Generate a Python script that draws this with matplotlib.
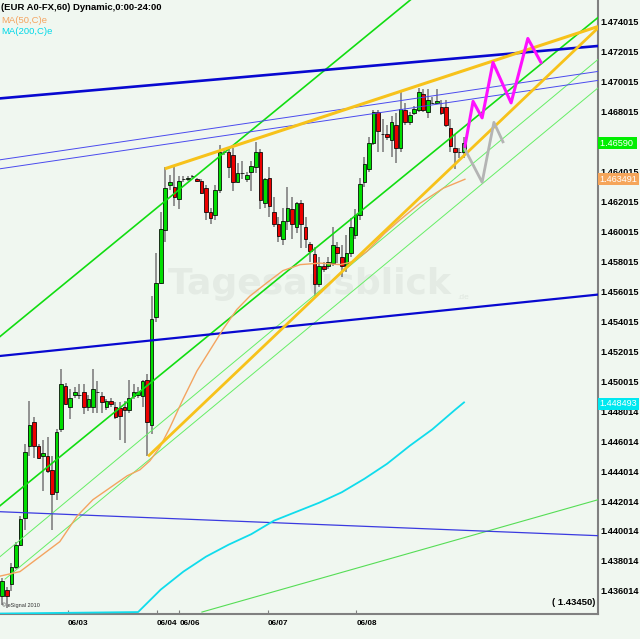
import numpy as np
import matplotlib.pyplot as plt
from matplotlib import transforms

plt.rcParams['font.family'] = ['Liberation Sans', 'DejaVu Sans']

# hourly candles, EUR A0-FX, bar index 0..102
opens = [1.4357, 1.4361, 1.4365, 1.4376, 1.4391, 1.4409, 1.4457, 1.4473, 1.4457, 1.4450,
         1.4450, 1.4441, 1.4426, 1.4468, 1.4497, 1.4483, 1.4491, 1.4491, 1.4493, 1.4483,
         1.4483, 1.4493, 1.4490, 1.4483, 1.4487, 1.4483, 1.4482, 1.4483, 1.4481, 1.4490,
         1.4491, 1.4490, 1.4501, 1.4471, 1.4543, 1.4566, 1.4601, 1.4631, 1.4630, 1.4622,
         1.4635, 1.4635, 1.4637, 1.4635, 1.4634, 1.4629, 1.4613, 1.4611, 1.4628, 1.4653,
         1.4653, 1.4651, 1.4633, 1.4639, 1.4635, 1.4640, 1.4643, 1.4653, 1.4619, 1.4636,
         1.4613, 1.4605, 1.4595, 1.4607, 1.4615, 1.4603, 1.4619, 1.4603, 1.4592, 1.4585,
         1.4565, 1.4577, 1.4577, 1.4579, 1.4590, 1.4583, 1.4577, 1.4586, 1.4598, 1.4611,
         1.4633, 1.4642, 1.4659, 1.4680, 1.4665, 1.4665, 1.4661, 1.4671, 1.4656, 1.4681,
         1.4673, 1.4679, 1.4681, 1.4692, 1.4680, 1.4686, 1.4686, 1.4683, 1.4683, 1.4669,
         1.4656, 1.4653, 1.4653]
highs = [1.4369, 1.4363, 1.4379, 1.4393, 1.4410, 1.4458, 1.4487, 1.4476, 1.4458, 1.4461,
         1.4463, 1.4450, 1.4468, 1.4508, 1.4499, 1.4495, 1.4496, 1.4498, 1.4498, 1.4491,
         1.4508, 1.4500, 1.4493, 1.4488, 1.4489, 1.4486, 1.4486, 1.4487, 1.4501, 1.4498,
         1.4496, 1.4501, 1.4505, 1.4557, 1.4586, 1.4613, 1.4643, 1.4638, 1.4643, 1.4637,
         1.4637, 1.4637, 1.4638, 1.4636, 1.4635, 1.4631, 1.4616, 1.4631, 1.4658, 1.4655,
         1.4656, 1.4656, 1.4646, 1.4647, 1.4640, 1.4647, 1.4660, 1.4655, 1.4636, 1.4643,
         1.4623, 1.4610, 1.4616, 1.4630, 1.4623, 1.4620, 1.4621, 1.4610, 1.4593, 1.4590,
         1.4583, 1.4580, 1.4583, 1.4603, 1.4593, 1.4591, 1.4598, 1.4609, 1.4615, 1.4636,
         1.4650, 1.4663, 1.4681, 1.4681, 1.4675, 1.4671, 1.4677, 1.4679, 1.4693, 1.4686,
         1.4680, 1.4684, 1.4696, 1.4695, 1.4695, 1.4690, 1.4695, 1.4688, 1.4688, 1.4675,
         1.4665, 1.4656, 1.4663]
lows = [1.4351, 1.4349, 1.4360, 1.4375, 1.4390, 1.4401, 1.4450, 1.4449, 1.4448, 1.4427,
        1.4439, 1.4401, 1.4421, 1.4466, 1.4484, 1.4475, 1.4489, 1.4488, 1.4478, 1.4480,
        1.4479, 1.4479, 1.4479, 1.4481, 1.4483, 1.4475, 1.4461, 1.4459, 1.4479, 1.4488,
        1.4489, 1.4483, 1.4450, 1.4465, 1.4540, 1.4565, 1.4593, 1.4628, 1.4617, 1.4615,
        1.4633, 1.4634, 1.4636, 1.4633, 1.4625, 1.4608, 1.4605, 1.4608, 1.4626, 1.4651,
        1.4636, 1.4627, 1.4633, 1.4635, 1.4633, 1.4627, 1.4639, 1.4615, 1.4616, 1.4610,
        1.4603, 1.4593, 1.4591, 1.4601, 1.4595, 1.4599, 1.4589, 1.4589, 1.4580, 1.4557,
        1.4563, 1.4573, 1.4575, 1.4577, 1.4579, 1.4570, 1.4573, 1.4583, 1.4595, 1.4608,
        1.4630, 1.4640, 1.4658, 1.4653, 1.4653, 1.4661, 1.4650, 1.4646, 1.4653, 1.4671,
        1.4671, 1.4678, 1.4680, 1.4680, 1.4676, 1.4685, 1.4685, 1.4678, 1.4670, 1.4653,
        1.4642, 1.4649, 1.4649]
closes = [1.4367, 1.4357, 1.4376, 1.4391, 1.4408, 1.4453, 1.4471, 1.4457, 1.4449, 1.4452,
          1.4440, 1.4425, 1.4466, 1.4498, 1.4485, 1.4489, 1.4493, 1.4491, 1.4483, 1.4488,
          1.4495, 1.4493, 1.4486, 1.4487, 1.4485, 1.4476, 1.4477, 1.4481, 1.4489, 1.4493,
          1.4493, 1.4500, 1.4473, 1.4542, 1.4566, 1.4602, 1.4629, 1.4633, 1.4623, 1.4634,
          1.4635, 1.4636, 1.4637, 1.4634, 1.4626, 1.4613, 1.4609, 1.4628, 1.4653, 1.4653,
          1.4643, 1.4633, 1.4639, 1.4639, 1.4638, 1.4644, 1.4653, 1.4621, 1.4635, 1.4617,
          1.4605, 1.4597, 1.4607, 1.4616, 1.4605, 1.4619, 1.4605, 1.4595, 1.4587, 1.4565,
          1.4577, 1.4575, 1.4580, 1.4591, 1.4586, 1.4577, 1.4586, 1.4603, 1.4611, 1.4632,
          1.4645, 1.4659, 1.4680, 1.4667, 1.4665, 1.4663, 1.4673, 1.4656, 1.4682, 1.4673,
          1.4678, 1.4682, 1.4693, 1.4681, 1.4688, 1.4686, 1.4687, 1.4679, 1.4671, 1.4657,
          1.4653, 1.4653, 1.4659]

# moving averages
ma50_x = [-0.5, 3.9, 8.3, 12.7, 16.5, 20.0, 23.8, 27.6, 30.4, 32.6, 34.8, 37.0, 39.9, 43.0,
          45.9, 48.8, 51.8, 54.7, 58.5, 62.0, 65.8, 70.2, 74.6, 77.5, 80.6, 84.5, 87.9, 92.3,
          97.4, 102.2]
ma50_y = [1.4370, 1.4373, 1.4383, 1.4393, 1.4410, 1.4421, 1.4429, 1.4437, 1.4441, 1.4447,
          1.4456, 1.4469, 1.4488, 1.4507, 1.4521, 1.4535, 1.4548, 1.4557, 1.4566, 1.4574,
          1.4578, 1.4579, 1.4578, 1.4580, 1.4587, 1.4599, 1.4608, 1.4619, 1.4629, 1.4635]
ma200_x = [-0.5, 30, 35, 40, 45, 50, 55, 60, 65, 70, 75, 80, 85, 90, 95, 100, 102]
ma200_y = [1.4345, 1.4346, 1.4361, 1.4373, 1.4383, 1.4391, 1.4398, 1.4407, 1.4413, 1.4419,
           1.4426, 1.4435, 1.4445, 1.4457, 1.4468, 1.4481, 1.4486]

# hand drawn trend lines (bar, price) end points
blue_thick_hi = ([-0.5, 131.6], [1.4689, 1.4724])
blue_thick_lo = ([-0.5, 131.6], [1.4517, 1.4558])
blue_thin_lo = ([-0.5, 131.6], [1.4413, 1.4397])
blue_thin_a = ([-0.5, 131.6], [1.4648, 1.4707])
blue_thin_b = ([-0.5, 131.6], [1.4642, 1.4701])
yellow_hi = ([35.9, 131.6], [1.4642, 1.4737])
yellow_lo = ([32.2, 131.6], [1.4450, 1.4736])
green_a = ([-0.5, 131.6], [1.4417, 1.4743])
green_b = ([-0.5, 108.4], [1.4530, 1.4800])
lime_a = ([-0.5, 131.6], [1.4383, 1.4715])
lime_b = ([0.6, 131.6], [1.4368, 1.4696])
lime_c = ([44.1, 131.6], [1.4346, 1.4421])

# projected paths
magenta_x = [102.2, 104.0, 106.0, 108.4, 112.4, 116.1, 119.0]
magenta_y = [1.4657, 1.4687, 1.4676, 1.4713, 1.4686, 1.4729, 1.4713]
gray_x = [102.2, 106.0, 108.6, 110.6]
gray_y = [1.4655, 1.4633, 1.4673, 1.4660]

day_ticks = [14.5, 34.2, 39.1, 58.7, 78.2]
day_labels = ["06/03", "06/04", "06/06", "06/07", "06/08"]

price_ticks = [1.474015, 1.472015, 1.470015, 1.468015, 1.464015, 1.462015,
               1.460015, 1.458015, 1.456015, 1.454015, 1.452015, 1.450015, 1.448014,
               1.446014, 1.444014, 1.442014, 1.440014, 1.438014, 1.436014]
price_labels = ["1.474015", "1.472015", "1.470015", "1.468015", "1.464015",
                "1.462015", "1.460015", "1.458015", "1.456015", "1.454015", "1.452015",
                "1.450015", "1.448014", "1.446014", "1.444014", "1.442014", "1.440014",
                "1.438014", "1.436014"]

bg = "#f0f7f0"
fig = plt.figure(figsize=(6.4, 6.39), dpi=100, facecolor=bg)
ax = fig.add_axes([0, 25 / 639, 598 / 640, 614 / 639])
ax.set_facecolor(bg)

# watermark
ax.text(68, 1.4565, "Tagesausblick", fontsize=26, fontweight="bold", color="#e4ebe4",
        ha="center", va="center", zorder=0.5, family="DejaVu Sans")
ax.text(100.5, 1.4555, ".de", fontsize=6, color="#dfe7df", zorder=0.5)

# candles
o = np.array(opens)
c = np.array(closes)
x = np.arange(len(o))
ax.vlines(x, lows, highs, color="#777777", lw=1.1, zorder=2)
body_lo = np.minimum(o, c)
body_h = np.maximum(np.abs(c - o), 1e-6)
cols = np.where(c >= o, "#00dd00", "#ee0000")
ax.bar(x, body_h, bottom=body_lo, width=0.8, color=cols, edgecolor="black",
       linewidth=0.55, zorder=3)

# trend lines
ax.plot(*lime_a, color="#66ee66", lw=0.7, zorder=4)
ax.plot(*lime_b, color="#66ee66", lw=0.7, zorder=4)
ax.plot(*lime_c, color="#55dd55", lw=0.8, zorder=4)
ax.plot(*green_a, color="#11dd11", lw=1.2, zorder=4)
ax.plot(*green_b, color="#11dd11", lw=1.2, zorder=4)
ax.plot(*blue_thin_a, color="#4a4aee", lw=0.7, zorder=4)
ax.plot(*blue_thin_b, color="#4a4aee", lw=0.7, zorder=4)
ax.plot(*blue_thin_lo, color="#3a3ae0", lw=0.9, zorder=4)
ax.plot(*blue_thick_hi, color="#0808d0", lw=1.9, zorder=4)
ax.plot(*blue_thick_lo, color="#0808d0", lw=1.6, zorder=4)
ax.plot(ma50_x, ma50_y, color="#f4a460", lw=1.0, zorder=4)
ax.plot(ma200_x, ma200_y, color="#10dcec", lw=1.3, zorder=4)
ax.plot(*yellow_hi, color="#f7c21a", lw=2.2, zorder=5, solid_capstyle="butt")
ax.plot(*yellow_lo, color="#f7c21a", lw=2.0, zorder=5, solid_capstyle="butt")
ax.plot(gray_x, gray_y, color="#b4b4b4", lw=2.0, zorder=5)
ax.plot(magenta_x, magenta_y, color="#ff10ff", lw=2.2, zorder=6)

ax.set_xlim(-0.51, 131.6)
ax.set_ylim(1.43447, 1.47547)

for s in ["top", "left"]:
    ax.spines[s].set_visible(False)
for s in ["right", "bottom"]:
    ax.spines[s].set_color("#808080")
    ax.spines[s].set_linewidth(1.5)

ax.yaxis.tick_right()
ax.set_yticks(price_ticks)
ax.set_yticklabels(price_labels, fontsize=6.6, fontweight="bold")
ax.tick_params(axis="y", length=0, pad=2)
ax.set_xticks(day_ticks)
ax.set_xticklabels(day_labels, fontsize=5.9, fontweight="bold", ha="left")
ax.tick_params(axis="x", direction="in", length=3, color="#808080", pad=4)

# last value boxes on the price axis
tr = transforms.blended_transform_factory(ax.transAxes, ax.transData)
for val, txt, col in [(1.4659, "1.46590 ", "#00ee00"), (1.4635, "1.463491", "#f5a55a"),
                      (1.4485, "1.448493", "#00e8f0")]:
    ax.text(1.003, val, txt, transform=tr, fontsize=6.6, color="white", va="center",
            ha="left", clip_on=False, zorder=10,
            bbox=dict(boxstyle="square,pad=0.15", fc=col, ec="none"))

ax.text(0.002, 0.987, "(EUR A0-FX,60) Dynamic,0:00-24:00", transform=ax.transAxes,
        fontsize=6.8, fontweight="bold", va="center", ha="left", zorder=10)
ax.text(0.002, 0.967, "MA(50,C)e", transform=ax.transAxes, fontsize=6.8,
        color="#f4a460", va="center", ha="left", zorder=10)
ax.text(0.002, 0.948, "MA(200,C)e", transform=ax.transAxes, fontsize=6.8,
        color="#00d8e8", va="center", ha="left", zorder=10)
ax.text(0.003, 0.01, "\u00a9 eSignal 2010", transform=ax.transAxes, fontsize=4.0,
        color="#333333", va="bottom", ha="left", zorder=10)
ax.text(0.995, 0.012, "( 1.43450)", transform=ax.transAxes, fontsize=6.8,
        fontweight="bold", va="bottom", ha="right", zorder=10)

fig.savefig("out.png", dpi=100, facecolor=bg)
